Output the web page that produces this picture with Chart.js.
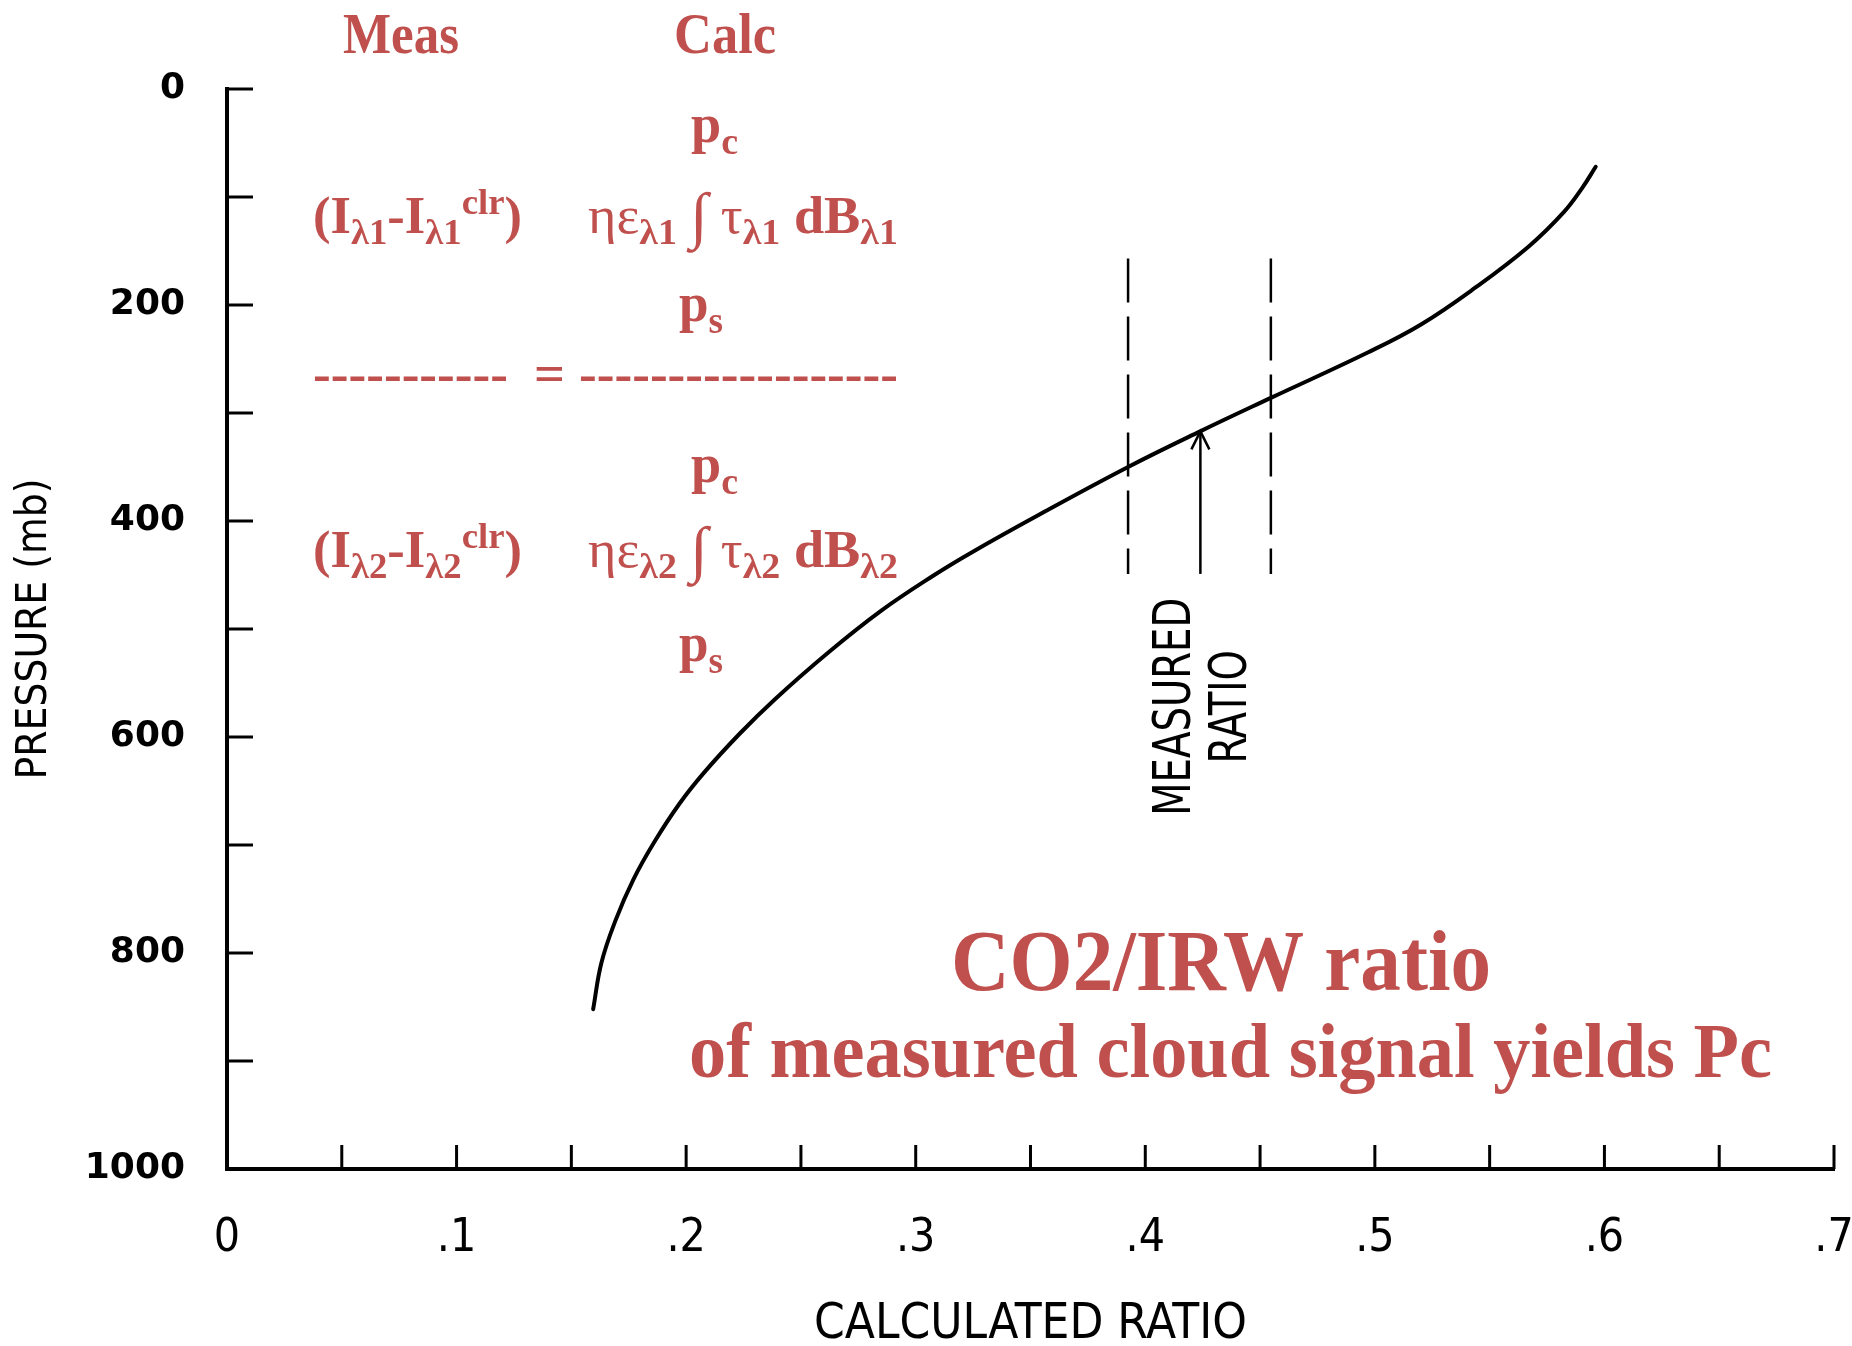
<!DOCTYPE html>
<html>
<head>
<meta charset="utf-8">
<script src="https://cdn.jsdelivr.net/npm/chart.js@4.4.1/dist/chart.umd.min.js"></script>
<style>
  html, body { margin: 0; padding: 0; background: #ffffff; }
  #wrap { width: 1852px; height: 1346px; }
</style>
</head>
<body>
<div id="wrap"><canvas id="c" width="1852" height="1346"></canvas></div>
<script>
// ---------- data ----------
const curveRatio    = [0.1595, 0.1631, 0.1692, 0.177, 0.1862, 0.197, 0.2078, 0.2233, 0.2387, 0.2618, 0.285, 0.3081, 0.3236, 0.3539, 0.3925, 0.4239, 0.4547, 0.4969, 0.5201, 0.5437, 0.5669, 0.5823, 0.5905, 0.5962];
const curvePressure = [852,    809,    770,    732,   697,    662,   633,    597,    565,    522,    483,   450,    430,    394,    350,    317,    286,    244,    218,    184,    146,    114,    91,     72];

const bandRatios    = [0.3925, 0.4547];   // dashed limits around the measured ratio
const bandPressure  = [157, 449];         // vertical extent of the dashed lines
const measuredRatio = 0.424;
const arrowPressure = [449, 317];         // arrow from bottom up to the curve

const xTickLabels = ['0', '.1', '.2', '.3', '.4', '.5', '.6', '.7'];
const yTickLabels = ['0', '200', '400', '600', '800', '1000'];
const xTitle = 'CALCULATED RATIO';
const yTitle = 'PRESSURE (mb)';
const arrowLabel = ['MEASURED', 'RATIO'];
const arrowLabelRatio = [0.4134, 0.4378];
const arrowLabelPressure = 572;

// ---------- styles ----------
const RED = '#C0504D';
const NARROW = '"DejaVu Sans Condensed", "Liberation Sans Narrow", "Arial Narrow", "Liberation Sans", sans-serif';
const SERIF = '"Liberation Serif", "Times New Roman", serif';

// rich text segment: [text, kind ('n'|'sub'|'sup'), weight, scale]
function segSize(seg, size) {
  const base = seg[1] === 'n' ? size : size * 0.7;
  return base * (seg[3] || 1);
}
function segFont(seg, size) {
  const w = seg[2] || 'bold';
  return w + ' ' + segSize(seg, size).toFixed(1) + 'px ' + SERIF;
}
function drawRich(ctx, segs, left, baseline, size, targetW) {
  let total = 0;
  const widths = segs.map(sg => {
    ctx.font = segFont(sg, size);
    const w = ctx.measureText(sg[0]).width;
    total += w;
    return w;
  });
  const sx = targetW ? targetW / total : 1;
  ctx.save();
  ctx.translate(left, baseline);
  ctx.scale(sx, 1);
  ctx.textAlign = 'left';
  ctx.textBaseline = 'alphabetic';
  ctx.fillStyle = RED;
  let x = 0;
  segs.forEach((sg, i) => {
    ctx.font = segFont(sg, size);
    let dy = sg[1] === 'sub' ? size * 0.22 : (sg[1] === 'sup' ? -size * 0.36 : 0);
    if (sg[3]) dy += size * 0.06;
    ctx.fillText(sg[0], x, dy);
    x += widths[i];
  });
  ctx.restore();
}

const TS = '\u2009';
const line1a = [['(I','n'],['λ1','sub'],['-I','n'],['λ1','sub'],['clr','sup'],[')','n']];
const line1b = [['η','n','normal'],['ε','n','normal'],['λ1','sub'],[TS + '∫' + TS,'n','normal',1.2],['τ','n','normal'],['λ1','sub'],[' dB','n'],['λ1','sub']];
const line2a = [['(I','n'],['λ2','sub'],['-I','n'],['λ2','sub'],['clr','sup'],[')','n']];
const line2b = [['η','n','normal'],['ε','n','normal'],['λ2','sub'],[TS + '∫' + TS,'n','normal',1.2],['τ','n','normal'],['λ2','sub'],[' dB','n'],['λ2','sub']];
const pc = [['p','n'],['c','sub']];
const ps = [['p','n'],['s','sub']];

const overlayPlugin = {
  id: 'overlay',
  afterDraw(chart) {
    const ctx = chart.ctx;
    const xs = chart.scales.x, ys = chart.scales.y;
    const area = chart.chartArea;

    // inward tick marks
    ctx.save();
    ctx.strokeStyle = '#000';
    ctx.lineWidth = 3;
    xs.ticks.forEach(t => {
      if (t.value <= 0) return;
      const px = xs.getPixelForValue(t.value);
      ctx.beginPath(); ctx.moveTo(px, area.bottom); ctx.lineTo(px, area.bottom - 24); ctx.stroke();
    });
    ys.ticks.forEach(t => {
      if (t.value >= 1000) return;
      const py = ys.getPixelForValue(t.value);
      ctx.beginPath(); ctx.moveTo(area.left, py); ctx.lineTo(area.left + 26, py); ctx.stroke();
    });

    // arrow head on the measured-ratio arrow
    const ax = xs.getPixelForValue(measuredRatio);
    const ay = ys.getPixelForValue(arrowPressure[1]);
    ctx.lineWidth = 2.5;
    ctx.beginPath();
    ctx.moveTo(ax - 9, ay + 18); ctx.lineTo(ax, ay); ctx.lineTo(ax + 9, ay + 18);
    ctx.stroke();

    // rotated labels MEASURED / RATIO (condensed)
    ctx.fillStyle = '#000';
    ctx.font = '52px ' + NARROW;
    ctx.textAlign = 'center';
    ctx.textBaseline = 'middle';
    const mw = ctx.measureText(arrowLabel[0]).width;
    const sx = 218 / mw;
    arrowLabel.forEach((txt, i) => {
      const lx = xs.getPixelForValue(arrowLabelRatio[i]);
      const ly = ys.getPixelForValue(arrowLabelPressure);
      ctx.save();
      ctx.translate(lx, ly);
      ctx.rotate(-Math.PI / 2);
      ctx.scale(sx, 1);
      ctx.fillText(txt, 0, 0);
      ctx.restore();
    });
    ctx.restore();

    // red formula overlay
    drawRich(ctx, [['Meas','n']], 343, 53, 58, 116);
    drawRich(ctx, [['Calc','n']], 674, 53, 58, 102);
    drawRich(ctx, pc, 691, 142, 54, 47);
    drawRich(ctx, line1a, 313, 233, 52, 209);
    drawRich(ctx, line1b, 588, 233, 52, 310);
    drawRich(ctx, ps, 679, 321, 54, 44);
    drawRich(ctx, [['-----------','n']], 313, 391, 52, 195);
    drawRich(ctx, [['=','n']], 534, 391, 52, 31);
    drawRich(ctx, [['------------------','n']], 579, 391, 52, 319);
    drawRich(ctx, pc, 691, 482, 54, 47);
    drawRich(ctx, line2a, 313, 567, 52, 209);
    drawRich(ctx, line2b, 588, 567, 52, 310);
    drawRich(ctx, ps, 679, 661, 54, 44);
    drawRich(ctx, [['CO2/IRW ratio','n']], 951, 990, 86, 540);
    drawRich(ctx, [['of measured cloud signal yields Pc','n']], 689, 1077, 79, 1083);
  }
};

const pts = (xa, ya) => xa.map((v, i) => ({ x: v, y: ya[i] }));

new Chart(document.getElementById('c'), {
  type: 'scatter',
  data: {
    datasets: [
      { data: pts(curveRatio, curvePressure), showLine: true, borderColor: '#000', borderWidth: 4, pointRadius: 0, tension: 0.4, borderCapStyle: 'round', borderJoinStyle: 'round' },
      { data: pts([bandRatios[0], bandRatios[0]], bandPressure), showLine: true, borderColor: '#000', borderWidth: 2.5, borderDash: [44, 14], pointRadius: 0 },
      { data: pts([bandRatios[1], bandRatios[1]], bandPressure), showLine: true, borderColor: '#000', borderWidth: 2.5, borderDash: [44, 14], pointRadius: 0 },
      { data: pts([measuredRatio, measuredRatio], arrowPressure), showLine: true, borderColor: '#000', borderWidth: 2.5, pointRadius: 0 }
    ]
  },
  options: {
    responsive: false,
    animation: false,
    devicePixelRatio: 1,
    layout: { padding: { top: 89, right: 18, left: 0, bottom: 0 } },
    plugins: { legend: { display: false }, tooltip: { enabled: false } },
    scales: {
      x: {
        type: 'linear', min: 0, max: 0.7,
        afterFit(s) { s.height = 177; s.paddingLeft = 0; s.paddingRight = 0; },
        grid: { display: false, drawTicks: false },
        border: { display: true, color: '#000', width: 4 },
        ticks: {
          stepSize: 0.05, autoSkip: false, maxRotation: 0, minRotation: 0, padding: 42, color: '#000',
          font: { family: NARROW, size: 46 },
          callback: (v) => { const n = Math.round(v * 20); return n % 2 === 0 ? xTickLabels[n / 2] : ''; }
        },
        title: { display: true, text: xTitle, color: '#000', font: { family: NARROW, size: 49, lineHeight: 0.85 }, padding: { top: 0, bottom: 0 } }
      },
      y: {
        type: 'linear', min: 0, max: 1000, reverse: true,
        afterFit(s) { s.width = 227; },
        grid: { display: false, drawTicks: false },
        border: { display: true, color: '#000', width: 4 },
        ticks: {
          stepSize: 100, autoSkip: false, padding: 42, color: '#000',
          font: { family: '"DejaVu Sans", sans-serif', weight: 'bold', size: 36 },
          callback: (v) => (v % 200 === 0 ? yTickLabels[v / 200] : '')
        },
        title: { display: true, text: yTitle, color: '#000', font: { family: NARROW, size: 42, lineHeight: 1.2 }, padding: { top: 10, bottom: 0 } }
      }
    }
  },
  plugins: [overlayPlugin]
});
</script>
</body>
</html>
